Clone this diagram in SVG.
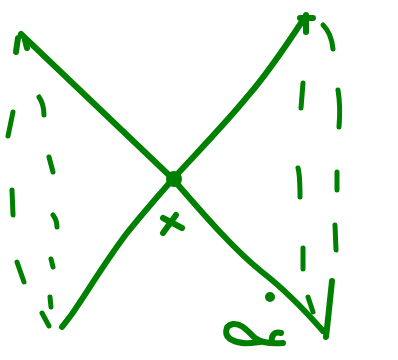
<svg xmlns="http://www.w3.org/2000/svg" width="398" height="360" viewBox="0 0 398 360">
<style>
.s{fill:none;stroke:#008000;stroke-width:6;stroke-linecap:round;stroke-linejoin:round}
.d{fill:none;stroke:#008000;stroke-width:5;stroke-linecap:round}
.f{fill:#008000}
</style>
<rect width="398" height="360" fill="#ffffff"/>
<g id="connectors">
<path class="s" d="M21,34 L172,178 C200,210 232,248 262,272 C288,292 308,314 323,331"/>
<path class="s" d="M62,327 C66,322 72,315 80,302 C92,284 108,258 127,233 C142,214 158,196 172,180 C190,160 225,124 247,97 C262,80 280,55 303,20"/>
<path class="s" d="M332,281 C330,300 328,320 326,337"/>
</g>
<g id="center">
<circle class="f" cx="174" cy="179" r="8"/>
<path class="s" d="M163,218 L182,228 M163,233 L176,215"/>
</g>
<g id="top-left">
<path class="s" d="M18,38 L16,52 M25,40 L27,48"/>
</g>
<g id="top-right">
<path class="s" d="M306,15 L306,32 M300,18 L313,18"/>
</g>
<g id="bottom-label">
<circle class="f" cx="270" cy="297" r="5"/>
<path class="s" d="M283,343 C272,344 262,343 255,338 C248,332 242,323 233,324 C224,326 224,336 232,340 C242,345 252,343 260,342"/>
<path class="s" d="M281,333 C274,331 271,336 272,342"/>
</g>
<g id="dashes">
<path class="d" d="M13,112 L8,136"/>
<path class="d" d="M39,97 C43,103 44,108 44,115"/>
<path class="d" d="M49,157 L53,172"/>
<path class="d" d="M12,190 L13,215"/>
<path class="d" d="M53,215 C56,219 57,222 57,227"/>
<path class="d" d="M17,262 L24,282"/>
<path class="d" d="M51,259 L53,267"/>
<path class="d" d="M50,297 L51,307"/>
<path class="d" d="M42,313 L49,326"/>
<path class="d" d="M323,25 C328,30 332,38 333,49"/>
<path class="d" d="M303,83 L301,108"/>
<path class="d" d="M338,90 C340,102 340,115 339,127"/>
<path class="d" d="M298,168 C300,175 300,186 300,197"/>
<path class="d" d="M337,172 L337,190"/>
<path class="d" d="M335,225 L336,250"/>
<path class="d" d="M303,248 L303,269"/>
<path class="d" d="M308,297 L313,312"/>
</g>
</svg>
